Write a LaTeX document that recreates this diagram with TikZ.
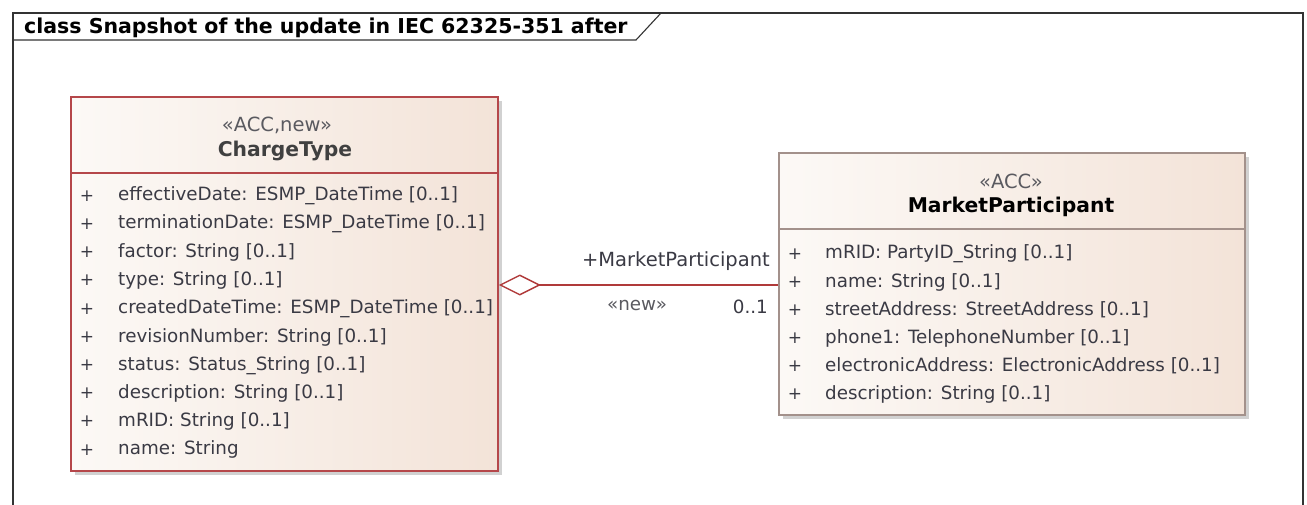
\documentclass[tikz,border=0pt]{standalone}
\usepackage{fontspec}
\setmainfont{DejaVu Sans}
\usetikzlibrary{arrows.meta,shadows}
\definecolor{ctborder}{HTML}{B5474A}
\definecolor{mpborder}{HTML}{A3918B}
\definecolor{fillL}{HTML}{FCF9F6}
\definecolor{fillR}{HTML}{F3E3D8}
\definecolor{txt}{HTML}{3A3A44}
\definecolor{stereo}{HTML}{5A5A60}
\definecolor{conn}{HTML}{B03A3A}
\tikzset{
  clsbox/.style={draw, line width=1.8pt, left color=fillL, right color=fillR, anchor=north west, inner sep=0pt,
    drop shadow={shadow xshift=4pt, shadow yshift=-4pt, fill=black!18, opacity=1}},
  attr/.style={anchor=west, inner sep=0pt, font=\fontsize{18.3}{20}\selectfont, text=txt},
  plus/.style={anchor=center, inner sep=0pt, font=\fontsize{17}{20}\selectfont, text=txt},
  stereotxt/.style={anchor=center, inner sep=0pt, font=\fontsize{19.5}{21}\selectfont, text=stereo},
  nametxt/.style={anchor=center, inner sep=0pt, font=\fontsize{20.3}{22}\selectfont\bfseries},
  lbl/.style={inner sep=0pt, font=\fontsize{18.3}{20}\selectfont, text=txt}
}
\begin{document}
\begin{tikzpicture}[x=1pt,y=-1pt]
\useasboundingbox (0,0) rectangle (1307,504);
\fill[white] (0,0) rectangle (1307,504);
% frame
\draw[line width=1.3pt, black!80] (13,520) -- (13,13) -- (1303,13) -- (1303,520);
\draw[line width=1.1pt, black!80] (13,40) -- (636,40) -- (661,13);
\node[anchor=west, inner sep=0pt, font=\fontsize{20.5}{22}\selectfont\bfseries] (title) at (24,28) {class Snapshot of the update in IEC 62325-351 after};
% ChargeType
\node[clsbox, draw=ctborder, minimum width=427pt, minimum height=374pt] (ct) at (70,96) {};
\draw[ctborder, line width=1.8pt] (70,173) -- (497,173);
\node[stereotxt] (cts) at (277,125) {«ACC,new»};
\node[nametxt, text=black!75] (ctn) at (285,151) {ChargeType};
\foreach \t [count=\i from 0] in {effectiveDate: ESMP\_DateTime [0..1], terminationDate: ESMP\_DateTime [0..1], factor: String [0..1], type: String [0..1], createdDateTime: ESMP\_DateTime [0..1], revisionNumber: String [0..1], status: Status\_String [0..1], description: String [0..1], mRID: String [0..1], name: String}{
  \node[plus] (ctp\i) at (87,196+28.2*\i) {+};
  \node[attr] (cta\i) at (118,196+28.2*\i) {\t};
}
% MarketParticipant
\node[clsbox, draw=mpborder, minimum width=466pt, minimum height=262pt] (mp) at (778,152) {};
\draw[mpborder, line width=1.8pt] (778,229) -- (1244,229);
\node[stereotxt] (mps) at (1011,181) {«ACC»};
\node[nametxt, text=black] (mpn) at (1011,207) {MarketParticipant};
\foreach \t [count=\i from 0] in {mRID: PartyID\_String [0..1], name: String [0..1], streetAddress: StreetAddress [0..1], phone1: TelephoneNumber [0..1], electronicAddress: ElectronicAddress [0..1], description: String [0..1]}{
  \node[plus] (mpp\i) at (795,254+28*\i) {+};
  \node[attr] (mpa\i) at (825,254+28*\i) {\t};
}
% association
\coordinate (cy) at (0,285);
\draw[conn, line width=1.4pt, {Diamond[open, length=42pt, width=21pt, line width=1.4pt]}-] (ct.east |- cy) -- (mp.west |- cy);
\node[lbl, anchor=east, font=\fontsize{19.5}{21}\selectfont] (rl) at (770,261) {+MarketParticipant};
\node[lbl, text=stereo] (st) at (637,305) {«new»};
\node[lbl, anchor=east] (mult) at (768,307) {0..1};
\end{tikzpicture}
\end{document}
